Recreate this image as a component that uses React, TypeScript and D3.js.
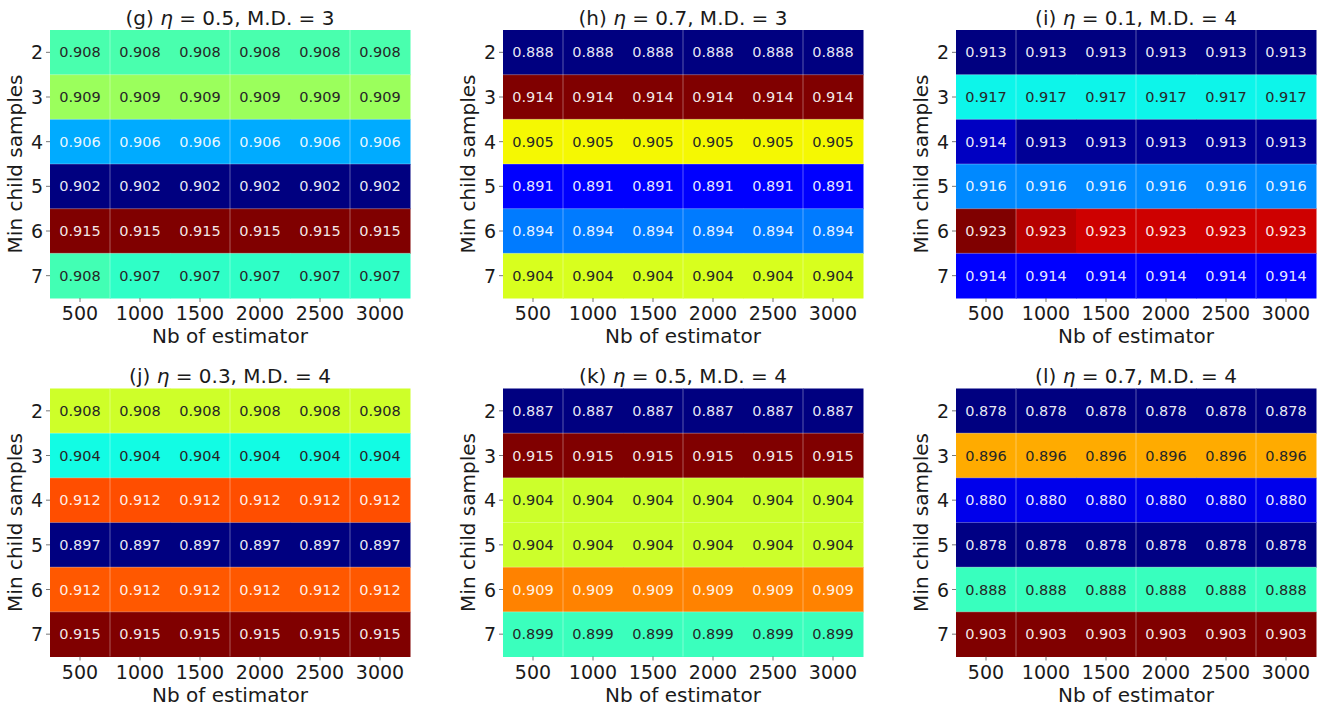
import React from "react";
import * as d3 from "d3";

const estimators = ["500", "1000", "1500", "2000", "2500", "3000"];
const minChild = ["2", "3", "4", "5", "6", "7"];

const titlesPrefix = ["(g) ", "(h) ", "(i) ", "(j) ", "(k) ", "(l) "];
const etaValues = ["0.5", "0.7", "0.1", "0.3", "0.5", "0.7"];
const depthValues = ["3", "3", "4", "4", "4", "4"];

const valuesG = [
  [0.9077, 0.9077, 0.9077, 0.9077, 0.9077, 0.9077],
  [0.909, 0.909, 0.909, 0.909, 0.909, 0.909],
  [0.9058, 0.9058, 0.9058, 0.9058, 0.9058, 0.9058],
  [0.902, 0.902, 0.902, 0.902, 0.902, 0.902],
  [0.915, 0.915, 0.915, 0.915, 0.915, 0.915],
  [0.9076, 0.9073, 0.9073, 0.9073, 0.9073, 0.9073],
];
const valuesH = [
  [0.888, 0.888, 0.888, 0.888, 0.888, 0.888],
  [0.9141, 0.9141, 0.9141, 0.9141, 0.9141, 0.9141],
  [0.9049, 0.9049, 0.9049, 0.9049, 0.9049, 0.9049],
  [0.8912, 0.8912, 0.8912, 0.8912, 0.8912, 0.8912],
  [0.8944, 0.8944, 0.8944, 0.8944, 0.8944, 0.8944],
  [0.904, 0.904, 0.904, 0.904, 0.904, 0.904],
];
const valuesI = [
  [0.913, 0.913, 0.913, 0.913, 0.913, 0.913],
  [0.9168, 0.9168, 0.9168, 0.9168, 0.9168, 0.9168],
  [0.9136, 0.9132, 0.9132, 0.9132, 0.9132, 0.9132],
  [0.9157, 0.9157, 0.9157, 0.9157, 0.9157, 0.9157],
  [0.9234, 0.9229, 0.9227, 0.9227, 0.9227, 0.9227],
  [0.9142, 0.9142, 0.9142, 0.9142, 0.9142, 0.9142],
];
const valuesJ = [
  [0.9078, 0.9078, 0.9078, 0.9078, 0.9078, 0.9078],
  [0.9037, 0.9037, 0.9037, 0.9037, 0.9037, 0.9037],
  [0.9119, 0.9119, 0.9119, 0.9119, 0.9119, 0.9119],
  [0.897, 0.897, 0.897, 0.897, 0.897, 0.897],
  [0.9117, 0.9117, 0.9117, 0.9117, 0.9117, 0.9117],
  [0.915, 0.915, 0.915, 0.915, 0.915, 0.915],
];
const valuesK = [
  [0.887, 0.887, 0.887, 0.887, 0.887, 0.887],
  [0.9151, 0.9151, 0.9151, 0.9151, 0.9151, 0.9151],
  [0.9038, 0.9038, 0.9038, 0.9038, 0.9038, 0.9038],
  [0.9038, 0.9038, 0.9038, 0.9038, 0.9038, 0.9038],
  [0.9087, 0.9087, 0.9087, 0.9087, 0.9087, 0.9087],
  [0.8988, 0.8988, 0.8988, 0.8988, 0.8988, 0.8988],
];
const valuesL = [
  [0.8776, 0.8776, 0.8776, 0.8776, 0.8776, 0.8776],
  [0.8964, 0.8964, 0.8964, 0.8964, 0.8964, 0.8964],
  [0.88, 0.88, 0.88, 0.88, 0.88, 0.88],
  [0.8777, 0.8777, 0.8777, 0.8777, 0.8777, 0.8777],
  [0.8884, 0.8884, 0.8884, 0.8884, 0.8884, 0.8884],
  [0.9034, 0.9034, 0.9034, 0.9034, 0.9034, 0.9034],
];

const panelValues = [valuesG, valuesH, valuesI, valuesJ, valuesK, valuesL];

// matplotlib jet segment data
const jetR: [number, number][] = [[0, 0], [0.35, 0], [0.66, 1], [0.89, 1], [1, 0.5]];
const jetG: [number, number][] = [[0, 0], [0.125, 0], [0.375, 1], [0.64, 1], [0.91, 0], [1, 0]];
const jetB: [number, number][] = [[0, 0.5], [0.11, 1], [0.34, 1], [0.65, 0], [1, 0]];

function seg(s: [number, number][], t: number) {
  for (let i = 1; i < s.length; i++) {
    if (t <= s[i][0]) {
      const [x0, y0] = s[i - 1];
      const [x1, y1] = s[i];
      return y0 + ((t - x0) / (x1 - x0)) * (y1 - y0);
    }
  }
  return s[s.length - 1][1];
}
function jet(t: number): [number, number, number] {
  const c = Math.max(0, Math.min(1, t));
  return [seg(jetR, c), seg(jetG, c), seg(jetB, c)];
}
function lum(rgb: [number, number, number]) {
  const lin = (v: number) => (v <= 0.03928 ? v / 12.92 : Math.pow((v + 0.055) / 1.055, 2.4));
  return 0.2126 * lin(rgb[0]) + 0.7152 * lin(rgb[1]) + 0.0722 * lin(rgb[2]);
}

const FONT = "'DejaVu Sans', sans-serif";
const PW = 360;
const PH = 268;
const panelX = [50, 503, 956];
const panelY = [30, 388.5];

function Panel({ idx }: { idx: number }) {
  const values = panelValues[idx];
  const ox = panelX[idx % 3];
  const oy = panelY[Math.floor(idx / 3)];
  const x = d3.scaleBand().domain(estimators).range([0, PW]);
  const y = d3.scaleBand().domain(minChild).range([0, PH]);
  const flat = values.flat();
  const norm = d3.scaleLinear().domain([d3.min(flat)!, d3.max(flat)!]).range([0, 1]);
  const cw = x.bandwidth();
  const ch = y.bandwidth();
  return (
    <g transform={`translate(${ox},${oy})`}>
      {values.map((row, ri) =>
        row.map((v, ci) => {
          const rgb = jet(norm(v));
          const fill = d3.rgb(rgb[0] * 255, rgb[1] * 255, rgb[2] * 255).toString();
          const tc = lum(rgb) > 0.408 ? "#262626" : "#ffffff";
          return (
            <g key={`${ri}-${ci}`}>
              <rect
                x={x(estimators[ci])}
                y={y(minChild[ri])}
                width={cw + 0.5}
                height={ch + 0.5}
                fill={fill}
              />
              <text
                x={x(estimators[ci])! + cw / 2}
                y={y(minChild[ri])! + ch / 2}
                textAnchor="middle"
                dominantBaseline="central"
                fontFamily={FONT}
                fontSize={14.5}
                fill={tc}
                fillOpacity={tc === "#ffffff" ? 0.92 : 1}
              >
                {d3.format(".3f")(v)}
              </text>
            </g>
          );
        })
      )}
      {minChild.slice(1).map((m) => (
        <line key={"h" + m} x1={0} x2={PW} y1={y(m)} y2={y(m)} stroke="#ffffff" strokeOpacity={0.3} strokeWidth={1} />
      ))}
      {[1, 3, 5].map((c) => (
        <line key={"v" + c} x1={x(estimators[c])} x2={x(estimators[c])} y1={0} y2={PH} stroke="#ffffff" strokeOpacity={0.35} strokeWidth={1} />
      ))}
      {minChild.map((m) => (
        <g key={"yt" + m}>
          <line x1={-4} x2={0} y1={y(m)! + ch / 2} y2={y(m)! + ch / 2} stroke="#555" strokeWidth={0.8} />
          <text x={-7} y={y(m)! + ch / 2} textAnchor="end" dominantBaseline="central" fontFamily={FONT} fontSize={19} fill="#1a1a1a">
            {m}
          </text>
        </g>
      ))}
      {estimators.map((e) => (
        <g key={"xt" + e}>
          <line x1={x(e)! + cw / 2} x2={x(e)! + cw / 2} y1={PH} y2={PH + 4} stroke="#555" strokeWidth={0.8} />
          <text x={x(e)! + cw / 2} y={PH + 22} textAnchor="middle" fontFamily={FONT} fontSize={19} fill="#1a1a1a">
            {e}
          </text>
        </g>
      ))}
      <text x={PW / 2} y={PH + 45} textAnchor="middle" fontFamily={FONT} fontSize={20} fill="#1a1a1a">
        Nb of estimator
      </text>
      <text
        transform={`translate(-28,${PH / 2}) rotate(-90)`}
        textAnchor="middle"
        fontFamily={FONT}
        fontSize={20}
        fill="#1a1a1a"
      >
        Min child samples
      </text>
      <text x={PW / 2} y={-5.5} textAnchor="middle" fontFamily={FONT} fontSize={20} fill="#1a1a1a">
        {titlesPrefix[idx]}
        <tspan fontStyle="italic">η</tspan>
        {` = ${etaValues[idx]}, M.D. = ${depthValues[idx]}`}
      </text>
    </g>
  );
}

export default function App() {
  return (
    <svg
      width={1323}
      height={708}
      style={{ position: "absolute", left: 0, top: 0, background: "#ffffff" }}
    >
      <rect width={1323} height={708} fill="#ffffff" />
      {[0, 1, 2, 3, 4, 5].map((i) => (
        <Panel key={i} idx={i} />
      ))}
    </svg>
  );
}
